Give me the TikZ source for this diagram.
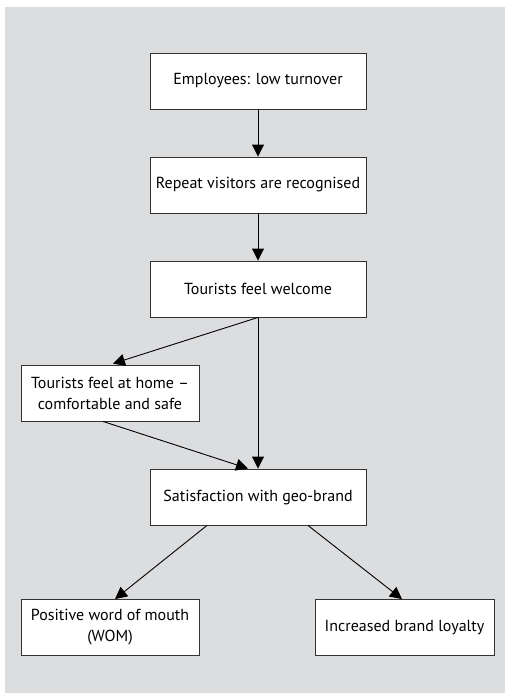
\documentclass[tikz,border=0pt]{standalone}
\usepackage{fontspec}
\setmainfont{PT Sans}
\usepackage{tikz}
\usetikzlibrary{arrows.meta, shapes}

\definecolor{panelgray}{HTML}{DCDDDF}
\definecolor{boxline}{HTML}{333333}
\tikzset{
  stage/.style={rectangle, draw=boxline, fill=white, line width=0.9pt, align=center,
    minimum width=216pt, minimum height=56pt, inner sep=2pt,
    font=\fontsize{16}{21}\selectfont},
  smallstage/.style={stage, minimum width=178pt},
  link/.style={draw, line width=0.9pt, -{Triangle[length=12pt, width=12pt]}}
}

\begin{document}
\begin{tikzpicture}[x=1pt, y=-1pt]
\useasboundingbox (0,0) rectangle (505,693);
\fill[panelgray] (5,7) rectangle (505,693);
\node[stage] (emp) at (258,81) {Employees: low turnover};
\node[stage] (rep) at (258,185) {Repeat visitors are recognised};
\node[stage] (wel) at (258,289) {Tourists feel welcome};
\node[smallstage] (home) at (110,393) {Tourists feel at home --\\comfortable and safe};
\node[stage] (sat) at (258,497) {Satisfaction with geo-brand};
\node[smallstage] (wom) at (110,627.5) {Positive word of mouth\\(WOM)};
\node[smallstage, minimum width=179pt] (loy) at (404.5,627.5) {Increased brand loyalty};
\draw [link] (emp) -- (rep);
\draw [link] (rep) -- (wel);
\draw [link, shorten >=3pt] (wel.south) -- (home.north);
\draw [link] (wel) -- (sat);
\draw [link] ([xshift=-7pt]home.south) -- ([xshift=-10pt]sat.north);
\draw [link] ([xshift=-51pt]sat.south) -- ([xshift=5pt]wom.north);
\draw [link] ([xshift=50pt]sat.south) -- ([xshift=-2.5pt]loy.north);
\end{tikzpicture}
\end{document}
